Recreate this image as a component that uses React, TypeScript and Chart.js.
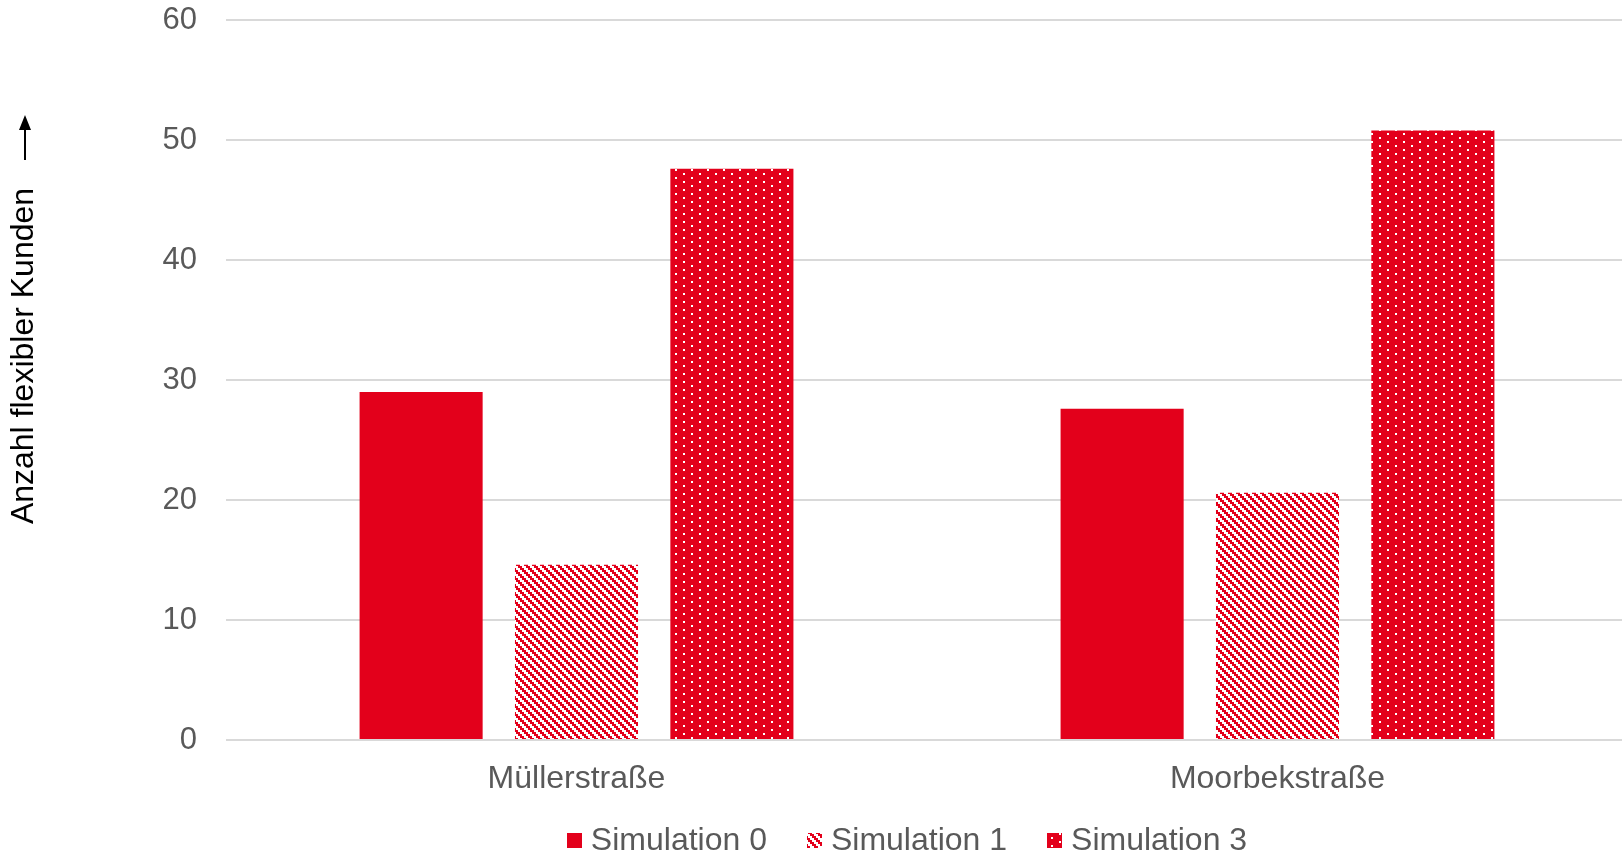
import React, { useEffect, useRef } from 'react';
import { Chart, registerables } from 'chart.js';

Chart.register(...registerables);

// ---- data ----
const categories = ['Müllerstraße', 'Moorbekstraße'];
const seriesNames = ['Simulation 0', 'Simulation 1', 'Simulation 3'];
const simulation0 = [29.0, 27.6];
const simulation1 = [14.6, 20.6];
const simulation3 = [47.6, 50.8];
const yMin = 0;
const yMax = 60;
const yStep = 10;
const axisTitle = 'Anzahl flexibler Kunden';

// ---- styles ----
const RED = '#E3001B';
const GREY_TEXT = '#595959';
const GRID = '#D9D9D9';
const FONT = "'Liberation Sans', Arial, Helvetica, sans-serif";
const TICK_FONT_SIZE = 31;
const FONT_SIZE = 32;
const CANVAS_W = 1628;
const CANVAS_H = 851;
const LEGEND_CENTER_X = 907;
const LEGEND_CENTER_Y = 840;
const TITLE_X = 24;
const TITLE_CENTER_Y = 356;

function makeStripePattern(): CanvasPattern | string {
  const c = document.createElement('canvas');
  c.width = 8;
  c.height = 8;
  const g = c.getContext('2d');
  if (!g) return RED;
  g.fillStyle = '#ffffff';
  g.fillRect(0, 0, 8, 8);
  g.fillStyle = RED;
  for (let y = 0; y < 8; y++) {
    for (let x = 0; x < 8; x++) {
      const k = (((Math.floor(x / 2) - Math.floor(y / 2)) % 4) + 4) % 4;
      if (k < 2) g.fillRect(x, y, 1, 1);
    }
  }
  return g.createPattern(c, 'repeat') || RED;
}

function makeDotPattern(): CanvasPattern | string {
  const c = document.createElement('canvas');
  c.width = 16;
  c.height = 8;
  const g = c.getContext('2d');
  if (!g) return RED;
  g.fillStyle = RED;
  g.fillRect(0, 0, 16, 8);
  g.fillStyle = '#ffffff';
  g.fillRect(3, 1, 2, 2);
  g.fillRect(11, 5, 2, 2);
  return g.createPattern(c, 'repeat') || RED;
}

const titlePlugin = {
  id: 'rotatedTitle',
  afterDraw(chart: any) {
    const ctx: CanvasRenderingContext2D = chart.ctx;
    ctx.save();
    ctx.translate(TITLE_X, TITLE_CENTER_Y);
    ctx.rotate(-Math.PI / 2);
    ctx.font = `${FONT_SIZE}px ${FONT}`;
    ctx.fillStyle = '#000000';
    ctx.textAlign = 'center';
    ctx.textBaseline = 'middle';
    ctx.fillText(axisTitle, 0, 0);
    const w = ctx.measureText(axisTitle).width;
    // arrow after the text (pointing up on screen)
    const start = w / 2 + 28;
    const len = 45;
    ctx.strokeStyle = '#000000';
    ctx.lineWidth = 2;
    ctx.beginPath();
    ctx.moveTo(start, 1);
    ctx.lineTo(start + len - 12, 1);
    ctx.stroke();
    ctx.fillStyle = '#000000';
    ctx.beginPath();
    ctx.moveTo(start + len, 1);
    ctx.lineTo(start + len - 15, -5);
    ctx.lineTo(start + len - 15, 7);
    ctx.closePath();
    ctx.fill();
    ctx.restore();
  },
};

const legendPlugin = {
  id: 'bottomLegend',
  afterDraw(chart: any) {
    const ctx: CanvasRenderingContext2D = chart.ctx;
    ctx.save();
    ctx.font = `${FONT_SIZE}px ${FONT}`;
    const box = 15;
    const gap = 9;
    const itemGap = 40;
    const items = chart.data.datasets.map((ds: any) => ({
      label: ds.label as string,
      fill: ds.backgroundColor,
      w: ctx.measureText(ds.label).width,
    }));
    const total =
      items.reduce((s: number, it: any) => s + box + gap + it.w, 0) + itemGap * (items.length - 1);
    let x = LEGEND_CENTER_X - total / 2;
    ctx.textBaseline = 'middle';
    ctx.textAlign = 'left';
    for (const it of items) {
      ctx.fillStyle = it.fill;
      ctx.fillRect(Math.round(x), Math.round(LEGEND_CENTER_Y - box / 2), box, box);
      ctx.fillStyle = GREY_TEXT;
      ctx.fillText(it.label, x + box + gap, LEGEND_CENTER_Y + 1);
      x += box + gap + it.w + itemGap;
    }
    ctx.restore();
  },
};

export default function App() {
  const ref = useRef<HTMLCanvasElement | null>(null);

  useEffect(() => {
    document.body.style.margin = '0';
    const canvas = ref.current;
    if (!canvas) return;
    const stripe = makeStripePattern();
    const dots = makeDotPattern();
    const chart = new Chart(canvas, {
      type: 'bar',
      data: {
        labels: categories,
        datasets: [
          { label: seriesNames[0], data: simulation0, backgroundColor: RED, borderWidth: 0 },
          { label: seriesNames[1], data: simulation1, backgroundColor: stripe as any, borderWidth: 0 },
          { label: seriesNames[2], data: simulation3, backgroundColor: dots as any, borderWidth: 0 },
        ],
      },
      options: {
        animation: false,
        responsive: false,
        devicePixelRatio: 1,
        layout: { padding: { left: 163, top: 20, right: 0, bottom: 55 } },
        datasets: {
          bar: { categoryPercentage: 0.665, barPercentage: 0.792 },
        },
        plugins: {
          legend: { display: false },
          tooltip: { enabled: false },
          title: { display: false },
        },
        scales: {
          x: {
            grid: { display: false, drawTicks: false },
            border: { display: false },
            ticks: {
              color: GREY_TEXT,
              font: { family: FONT, size: FONT_SIZE },
              padding: 20,
            },
            afterFit: (scale: any) => {
              scale.height = 56;
              scale.paddingLeft = 0;
              scale.paddingRight = 0;
            },
          },
          y: {
            min: yMin,
            max: yMax,
            grid: { color: GRID, lineWidth: 2, drawTicks: false },
            border: { display: false },
            ticks: {
              stepSize: yStep,
              color: GREY_TEXT,
              font: { family: FONT, size: TICK_FONT_SIZE },
              padding: 29,
            },
            afterFit: (scale: any) => {
              scale.width = 63;
              scale.paddingTop = 0;
              scale.paddingBottom = 0;
            },
          },
        },
      },
      plugins: [titlePlugin, legendPlugin],
    });
    return () => chart.destroy();
  }, []);

  return (
    <div
      style={{
        position: 'fixed',
        left: 0,
        top: 0,
        width: 1622,
        height: 851,
        overflow: 'hidden',
        background: '#ffffff',
      }}
    >
      <canvas ref={ref} width={CANVAS_W} height={CANVAS_H} style={{ display: 'block' }} />
    </div>
  );
}
